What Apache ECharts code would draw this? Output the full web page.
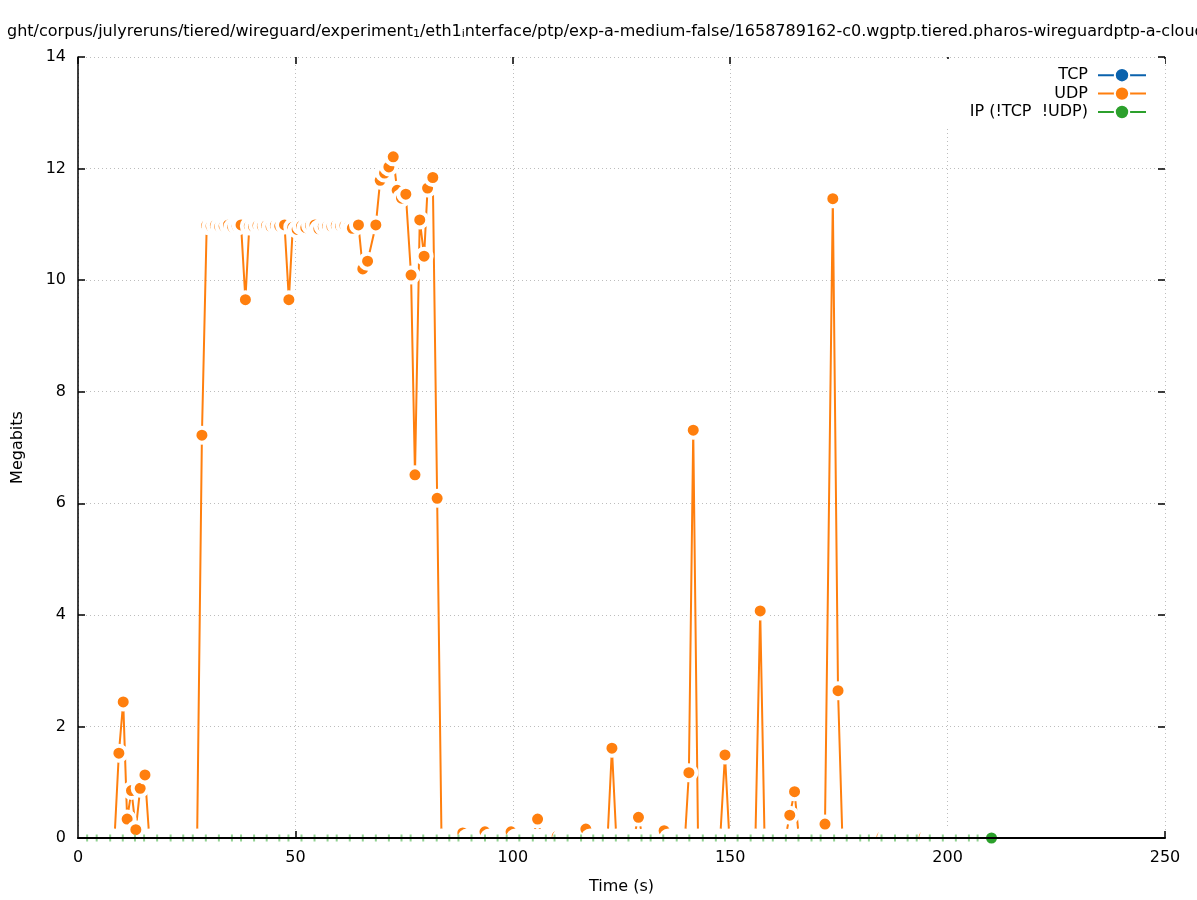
<!DOCTYPE html>
<html><head><meta charset="utf-8">
<script src="https://cdn.jsdelivr.net/npm/echarts@6/dist/echarts.min.js"></script>
<style>html,body{margin:0;padding:0;background:#fff}#c{width:1197px;height:900px}</style>
</head><body><div id="c"></div>
<script>
// ---- data ----
const seriesNames = ['TCP', 'UDP', 'IP (!TCP  !UDP)'];
const xTickLabels = [0, 50, 100, 150, 200, 250];
const yTickLabels = [0, 2, 4, 6, 8, 10, 12, 14];

const tcpTime = [];
const tcpMbits = [];

const udpTime = [
 0.5,1.5,2.5,3.5,4.5,5.5,6.5,7.5,8.4,9.4,10.4,11.3,12.3,13.3,14.3,15.4,
 16.4,17.4,18.4,19.4,20.4,21.4,22.4,23.4,24.4,25.4,26.4,27.4,28.5,
 29.6,30.6,31.6,32.6,33.6,34.6,35.6,36.6,37.5,38.5,39.4,40.4,41.4,42.4,43.4,44.4,45.4,46.4,47.5,48.5,
 49.4,50.4,51.4,52.4,53.5,54.5,55.4,56.4,57.4,58.4,59.4,60.4,61.4,62.4,63.1,64.5,65.5,66.6,
 68.5,69.5,70.5,71.5,72.5,73.4,74.4,75.4,76.6,77.5,78.6,79.6,80.4,81.6,82.6,
 83.6,84.6,85.6,86.6,87.6,88.5,89.5,90.5,91.5,92.6,93.6,94.6,95.6,96.6,97.6,98.6,99.6,
 100.6,101.6,102.6,103.6,104.6,105.7,106.7,107.7,108.7,109.4,110.2,111.2,112.2,113.2,114.2,115.8,116.8,
 117.8,118.8,119.8,120.8,121.8,122.8,123.8,124.8,125.8,126.8,127.8,128.9,129.9,130.9,131.9,132.9,133.9,134.8,
 135.8,136.8,137.8,138.8,139.6,140.5,141.5,142.6,143.6,144.6,145.6,146.6,147.7,148.8,
 149.8,150.8,151.8,152.8,153.8,154.8,155.8,156.9,157.9,158.9,159.9,160.9,161.9,162.7,163.7,164.8,
 165.8,166.8,167.8,168.8,169.8,170.8,171.8,173.6,174.8,
 175.8,176.8,177.8,178.8,179.8,180.8,181.8,182.8,183.8,184.9,
 185.9,186.9,187.9,188.9,189.9,190.9,191.9,192.9,193.6,194.6,
 195.6,196.6,197.6,198.6,199.6,200.6,201.6,202.6,203.6,204.6,205.6,206.6,207.6,208.6,209.6
];
const udpMbits = [
 0,0,0,0,0,0,0,0,0,1.52,2.44,0.34,0.85,0.15,0.89,1.13,
 0,0,0,0,0,0,0,0,0,0,0,0,7.22,
 10.98,10.97,10.98,10.96,10.97,10.99,10.95,10.97,10.99,9.65,10.97,10.96,10.98,10.97,10.98,10.96,10.98,10.97,10.99,9.65,
 10.95,10.91,10.97,10.94,10.98,10.99,10.92,10.96,10.97,10.96,10.98,10.97,10.98,10.97,10.93,10.99,10.20,10.34,
 10.99,11.79,11.92,12.03,12.21,11.61,11.47,11.54,10.09,6.51,11.08,10.43,11.65,11.84,6.09,
 0,0,0,0,0,0.09,0,0,0,0,0.11,0,0,0,0,0,0.11,
 0,0,0,0,0,0.34,0,0,0,0,0.03,0,0,0,0,0,0.16,
 0,0,0,0,0,1.61,0,0,0,0,0,0.37,0,0,0,0,0,0.13,
 0,0,0,0,0,1.17,7.31,0,0,0,0,0,0,1.49,
 0,0,0,0,0,0,0,4.07,0,0,0,0,0,0,0.41,0.83,
 0,0,0,0,0,0,0.25,11.46,2.64,
 0,0,0,0,0,0,0,0,0,0.02,
 0,0,0,0,0,0,0,0,0,0.02,
 0,0,0,0,0,0,0,0,0,0,0,0,0,0,0
];

const ipTime = [
 2.1,4.3,7.4,10.3,13.1,15.2,18.2,21.3,24.2,26.4,29.4,32.4,35.4,37.5,40.5,43.4,46.3,
 48.4,51.4,54.4,57.4,59.5,62.5,65.5,68.5,71.5,74.4,76.5,79.4,82.5,85.4,87.5,90.5,93.6,
 96.5,98.6,101.5,104.6,107.6,109.6,112.6,115.7,118.5,120.7,123.7,126.6,129.6,131.7,134.6,
 137.7,140.6,143.7,146.7,148.8,151.7,154.7,157.6,159.8,162.8,165.7,168.7,170.8,173.9,
 176.8,179.9,181.9,184.8,187.9,190.8,192.9,195.9,198.9,201.9,204.9,206.9,210.1
];
const ipMbits = [
 0,0,0,0,0,0,0,0,0,0,0,0,0,0,0,0,0,
 0,0,0,0,0,0,0,0,0,0,0,0,0,0,0,0,0,
 0,0,0,0,0,0,0,0,0,0,0,0,0,0,0,
 0,0,0,0,0,0,0,0,0,0,0,0,0,0,
 0,0,0,0,0,0,0,0,0,0,0,0,0
];

const titleParts = ['ght/corpus/julyreruns/tiered/wireguard/experiment', '1', '/eth1', 'i',
  'nterface/ptp/exp-a-medium-false/1658789162-c0.wgptp.tiered.pharos-wireguardptp-a-cloud'];

// ---- chart ----
const FONT = 'DejaVu Sans';
const C_TCP = '#0a62ad', C_UDP = '#ff7f0e', C_IP = '#2ca02c';

const udpData = udpTime.map((t, i) => udpMbits[i] === 0
  ? { value: [t, 0], itemStyle: { color: '#fff' } }
  : [t, udpMbits[i]]);
const ipData = ipTime.map((t, i) => i < ipTime.length - 1
  ? { value: [t, ipMbits[i]], symbol: 'rect', symbolSize: [2, 7], itemStyle: { color: '#93d293', borderWidth: 0 } }
  : [t, ipMbits[i]]);

const chart = echarts.init(document.getElementById('c'), null, { renderer: 'canvas' });
const tickStyle = { color: '#000', width: 1.5 };
const gridLine = { show: true, lineStyle: { color: '#bdbdbd', width: 1, type: [1, 3] } };

const lineSeries = (name, color, data) => ({
  name, type: 'line', data, color, silent: true,
  symbol: 'circle', symbolSize: 15,
  lineStyle: { color, width: 2 },
  itemStyle: { color, borderColor: '#fff', borderWidth: 4 },
  emphasis: { disabled: true }
});

chart.setOption({
  animation: false,
  backgroundColor: '#fff',
  title: {
    text: '{n|' + titleParts[0] + '}{s|' + titleParts[1] + '}{n|' + titleParts[2] + '}{s|' + titleParts[3] + '}{n|' + titleParts[4] + '}',
    left: 2, top: 15,
    textStyle: {
      fontWeight: 'normal',
      rich: {
        n: { fontFamily: FONT, fontSize: 16, fontWeight: 'normal', color: '#000', lineHeight: 20, verticalAlign: 'bottom' },
        s: { fontFamily: FONT, fontSize: 11, fontWeight: 'normal', color: '#000', lineHeight: 8, verticalAlign: 'bottom' }
      }
    }
  },
  grid: { left: 78, right: 32, top: 57, bottom: 62, containLabel: false },
  legend: {
    orient: 'vertical', right: 32, top: 59, align: 'right',
    itemWidth: 48, itemHeight: 18, itemGap: 2,
    backgroundColor: '#fff', padding: [8, 18, 6, 26],
    textStyle: { fontFamily: FONT, fontSize: 16, color: '#000', padding: [0, 5, 0, 0] },
    data: seriesNames
  },
  xAxis: [
    { type: 'value', min: xTickLabels[0], max: xTickLabels[xTickLabels.length - 1], interval: 50, position: 'bottom',
      axisLine: { show: false, onZero: false },
      axisTick: { inside: true, length: 7, lineStyle: tickStyle },
      axisLabel: { margin: 12, color: '#000', fontFamily: FONT, fontSize: 16 },
      splitLine: gridLine,
      name: 'Time (s)', nameLocation: 'middle', nameGap: 41,
      nameTextStyle: { fontFamily: FONT, fontSize: 16, color: '#000' } },
    { type: 'value', min: 0, max: 250, position: 'bottom', z: 10,
      axisLine: { show: true, onZero: false, lineStyle: { color: '#000', width: 2 } },
      axisTick: { show: false }, axisLabel: { show: false }, splitLine: { show: false } },
    { type: 'value', min: 0, max: 250, interval: 50, position: 'top',
      axisLine: { show: false, onZero: false },
      axisTick: { inside: true, length: 7, lineStyle: tickStyle },
      axisLabel: { show: false }, splitLine: { show: false } }
  ],
  yAxis: [
    { type: 'value', min: yTickLabels[0], max: yTickLabels[yTickLabels.length - 1], interval: 2, position: 'left',
      axisLine: { show: false, onZero: false },
      axisTick: { inside: true, length: 7, lineStyle: tickStyle },
      axisLabel: { margin: 12, color: '#000', fontFamily: FONT, fontSize: 16 },
      splitLine: gridLine,
      name: 'Megabits', nameLocation: 'middle', nameGap: 52,
      nameTextStyle: { fontFamily: FONT, fontSize: 16, color: '#000' } },
    { type: 'value', min: 0, max: 14, position: 'left', z: 10,
      axisLine: { show: true, onZero: false, lineStyle: { color: '#000', width: 1.5 } },
      axisTick: { show: false }, axisLabel: { show: false }, splitLine: { show: false } },
    { type: 'value', min: 0, max: 14, interval: 2, position: 'right',
      axisLine: { show: false, onZero: false },
      axisTick: { inside: true, length: 7, lineStyle: tickStyle },
      axisLabel: { show: false }, splitLine: { show: false } }
  ],
  series: [
    lineSeries(seriesNames[0], C_TCP, tcpTime.map((t, i) => [t, tcpMbits[i]])),
    lineSeries(seriesNames[1], C_UDP, udpData),
    lineSeries(seriesNames[2], C_IP, ipData)
  ]
});
</script></body></html>
